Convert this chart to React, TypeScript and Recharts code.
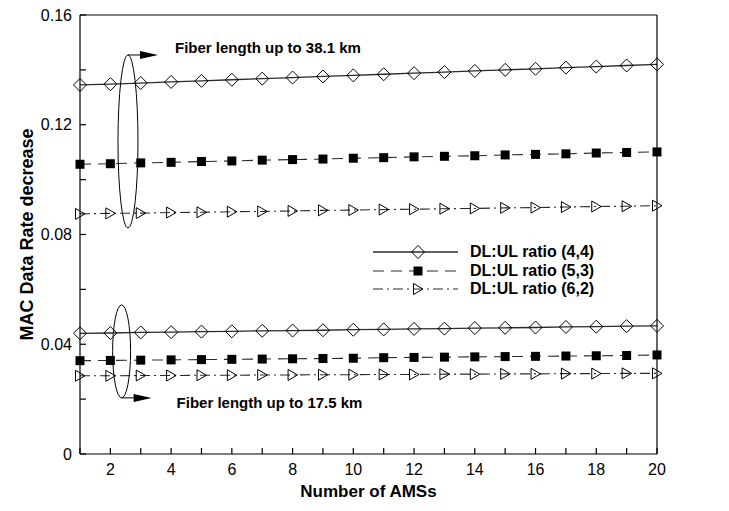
import React from 'react';
import { LineChart, Line, XAxis, YAxis, Legend, ReferenceLine, ReferenceDot } from 'recharts';

const amsCounts = [1, 2, 3, 4, 5, 6, 7, 8, 9, 10, 11, 12, 13, 14, 15, 16, 17, 18, 19, 20];
const xTicks = amsCounts;
const yTicks = [0, 0.02, 0.04, 0.06, 0.08, 0.1, 0.12, 0.14, 0.16];
const yLabelled = [0, 0.04, 0.08, 0.12, 0.16];

// Fiber length up to 38.1 km
const ratio44Long = [0.1345, 0.1348, 0.1352, 0.1356, 0.136, 0.1364, 0.1368, 0.1372, 0.1376, 0.138, 0.1384, 0.1388, 0.1392, 0.1396, 0.14, 0.1404, 0.1408, 0.1412, 0.1416, 0.142];
const ratio53Long = [0.1056, 0.1058, 0.1061, 0.1063, 0.1066, 0.1068, 0.1071, 0.1073, 0.1075, 0.1078, 0.108, 0.1083, 0.1085, 0.1087, 0.109, 0.1092, 0.1094, 0.1097, 0.1099, 0.1101];
const ratio62Long = [0.0875, 0.0877, 0.0878, 0.088, 0.0881, 0.0883, 0.0884, 0.0886, 0.0888, 0.0889, 0.0891, 0.0892, 0.0894, 0.0895, 0.0897, 0.0898, 0.09, 0.0902, 0.0903, 0.0905];
// Fiber length up to 17.5 km
const ratio44Short = [0.044, 0.0441, 0.0443, 0.0444, 0.0446, 0.0447, 0.0449, 0.045, 0.0451, 0.0453, 0.0454, 0.0456, 0.0457, 0.0459, 0.046, 0.0461, 0.0463, 0.0464, 0.0466, 0.0467];
const ratio53Short = [0.034, 0.0341, 0.0342, 0.0343, 0.0344, 0.0345, 0.0346, 0.0347, 0.0348, 0.0349, 0.0351, 0.0352, 0.0353, 0.0354, 0.0355, 0.0356, 0.0357, 0.0358, 0.0359, 0.0361];
const ratio62Short = [0.0285, 0.0285, 0.0286, 0.0286, 0.0287, 0.0287, 0.0288, 0.0288, 0.0289, 0.0289, 0.029, 0.029, 0.0291, 0.0291, 0.0292, 0.0292, 0.0293, 0.0293, 0.0294, 0.0294];

const seriesNames = ['DL:UL ratio (4,4)', 'DL:UL ratio (5,3)', 'DL:UL ratio (6,2)'];
const annotationTexts = ['Fiber length up to 38.1 km', 'Fiber length up to 17.5 km'];

const data = amsCounts.map((n, i) => ({
  n,
  l44: ratio44Long[i],
  l53: ratio53Long[i],
  l62: ratio62Long[i],
  s44: ratio44Short[i],
  s53: ratio53Short[i],
  s62: ratio62Short[i],
}));

const FONT = '"Liberation Sans", Arial, sans-serif';
const LINE = '#2a2a2a';
const TICK_MARGIN = 8;
const TICK_LEN = 6;

type Kind = 'diamond' | 'square' | 'triangle';

const marker = (kind: Kind, cx: number, cy: number, key?: string) => {
  if (kind === 'diamond') {
    const r = 6.5;
    return <path key={key} d={`M${cx},${cy - r}L${cx + r},${cy}L${cx},${cy + r}L${cx - r},${cy}Z`} fill="none" stroke="#000" strokeWidth={1} />;
  }
  if (kind === 'square') {
    return <rect key={key} x={cx - 4.5} y={cy - 4.5} width={9} height={9} fill="#000" />;
  }
  return <path key={key} d={`M${cx - 4.5},${cy - 5.5}L${cx + 5},${cy}L${cx - 4.5},${cy + 5.5}Z`} fill="none" stroke="#000" strokeWidth={1} />;
};

const styles: Record<string, { kind: Kind; dash?: string; width: number }> = {
  '44': { kind: 'diamond', width: 1.3 },
  '53': { kind: 'square', dash: '11 7', width: 1.1 },
  '62': { kind: 'triangle', dash: '10 4 2 4', width: 1.1 },
};

const makeDot = (kind: Kind) => (props: any) => {
  const { cx, cy, index, dataKey } = props;
  if (cx == null || cy == null) return <g key={`${dataKey}-${index}`} />;
  return marker(kind, cx, cy, `${dataKey}-${index}`);
};

const legendKey: Record<string, string> = {
  [seriesNames[0]]: '44',
  [seriesNames[1]]: '53',
  [seriesNames[2]]: '62',
};

const renderLegend = () => (
  <div style={{ fontFamily: FONT, fontWeight: 'bold', fontSize: 16 }}>
    {seriesNames.map((name) => {
      const st = styles[legendKey[name]];
      return (
        <div key={name} style={{ display: 'flex', alignItems: 'center', height: 18.5 }}>
          <svg width={97} height={18} style={{ display: 'block' }}>
            <line x1={0} x2={85} y1={9} y2={9} stroke={LINE} strokeWidth={st.width} strokeDasharray={st.dash} />
            {marker(st.kind, 45, 9)}
          </svg>
          <span style={{ whiteSpace: 'nowrap', color: '#000' }}>{name}</span>
        </div>
      );
    })}
  </div>
);

const annotationShape = (rx: number, ry: number, side: 'top' | 'bottom', text: string, tdx: number, tdy: number) => (props: any) => {
  const { cx, cy } = props;
  if (cx == null) return <g />;
  const ay = side === 'top' ? cy - ry : cy + ry;
  const ax = cx;
  return (
    <g>
      <ellipse cx={cx} cy={cy} rx={rx} ry={ry} fill="none" stroke="#000" strokeWidth={1} />
      <line x1={ax} x2={ax + 14} y1={ay} y2={ay} stroke="#000" strokeWidth={1} />
      <path d={`M${ax + 12},${ay - 4}L${ax + 30},${ay}L${ax + 12},${ay + 4}Z`} fill="#000" />
      <text x={ax + tdx} y={ay + tdy} fontFamily={FONT} fontWeight="bold" fontSize={15} fill="#000">{text}</text>
    </g>
  );
};

const fmt = (v: number) => (v === 0 ? '0' : v.toFixed(2));
const isLabelled = (v: number) => yLabelled.some((t) => Math.abs(t - v) < 1e-9);

const leftTick = (props: any) => {
  const { x, y, payload } = props;
  const axisX = x + TICK_MARGIN;
  return (
    <g>
      <line x1={axisX} x2={axisX + TICK_LEN} y1={y} y2={y} stroke="#000" strokeWidth={1.2} />
      {isLabelled(payload.value) ? (
        <text x={x} y={y} dy={5.5} textAnchor="end" fontFamily={FONT} fontSize={16} fill="#000">{fmt(payload.value)}</text>
      ) : null}
    </g>
  );
};

const rightTick = (props: any) => {
  const { x, y, payload } = props;
  const axisX = x - TICK_MARGIN;
  return (
    <g>
      <line x1={axisX} x2={axisX - TICK_LEN} y1={y} y2={y} stroke="#000" strokeWidth={1.2} />
      {isLabelled(payload.value) ? (
        <text x={x} y={y} dy={5.5} textAnchor="start" fontFamily={FONT} fontSize={16} fill="#000">{fmt(payload.value)}</text>
      ) : null}
    </g>
  );
};

const bottomTick = (props: any) => {
  const { x, y, payload } = props;
  const v = payload.value;
  const axisY = y - 9;
  return (
    <g>
      <line x1={x} x2={x} y1={axisY} y2={axisY - TICK_LEN} stroke="#000" strokeWidth={1.2} />
      {v % 2 === 0 ? (
        <text x={x} y={y} dy={12} textAnchor="middle" fontFamily={FONT} fontSize={16} fill="#000">{v}</text>
      ) : null}
    </g>
  );
};

export default function App() {
  return (
    <div style={{ position: 'absolute', left: 0, top: 0, width: 729, height: 511, background: '#fff' }}>
      <LineChart width={729} height={511} data={data} margin={{ top: 15, right: 20, bottom: 12, left: 0 }}>
        <XAxis
          dataKey="n"
          type="number"
          domain={[1, 20]}
          ticks={xTicks}
          interval={0}
          tickSize={0}
          tickMargin={9}
          tickLine={false}
          tick={bottomTick}
          axisLine={{ stroke: '#000', strokeWidth: 1.2 }}
          height={45}
          label={{ value: 'Number of AMSs', position: 'insideBottom', offset: 2, fontFamily: FONT, fontWeight: 'bold', fontSize: 17, fill: '#000' }}
        />
        <YAxis
          yAxisId="left"
          domain={[0, 0.16]}
          ticks={yTicks}
          interval={0}
          width={80}
          tickSize={0}
          tickMargin={TICK_MARGIN}
          tickLine={false}
          tick={leftTick}
          axisLine={{ stroke: '#000', strokeWidth: 1.2 }}
          label={{ value: 'MAC Data Rate decrease', angle: -90, position: 'insideLeft', offset: 27, fontFamily: FONT, fontWeight: 'bold', fontSize: 18, fill: '#000', style: { textAnchor: 'middle' } }}
        />
        <YAxis
          yAxisId="right"
          orientation="right"
          domain={[0, 0.16]}
          ticks={yTicks}
          interval={0}
          width={52}
          tickSize={0}
          tickMargin={TICK_MARGIN}
          tickLine={false}
          tick={rightTick}
          axisLine={{ stroke: '#000', strokeWidth: 1.2 }}
        />
        <ReferenceLine yAxisId="left" y={0.16} stroke="#000" strokeWidth={1} />
        <Legend
          content={renderLegend}
          layout="horizontal"
          verticalAlign="middle"
          align="center"
          wrapperStyle={{ position: 'absolute', left: 373, top: 243, width: 240, height: 60 }}
        />
        <Line yAxisId="left" type="linear" dataKey="l44" name={seriesNames[0]} stroke={LINE} strokeWidth={styles['44'].width} dot={makeDot('diamond')} isAnimationActive={false} />
        <Line yAxisId="left" type="linear" dataKey="l53" name={seriesNames[1]} stroke={LINE} strokeWidth={styles['53'].width} strokeDasharray={styles['53'].dash} dot={makeDot('square')} isAnimationActive={false} />
        <Line yAxisId="left" type="linear" dataKey="l62" name={seriesNames[2]} stroke={LINE} strokeWidth={styles['62'].width} strokeDasharray={styles['62'].dash} dot={makeDot('triangle')} isAnimationActive={false} />
        <Line yAxisId="left" type="linear" dataKey="s44" name="s44" legendType="none" stroke={LINE} strokeWidth={styles['44'].width} dot={makeDot('diamond')} isAnimationActive={false} />
        <Line yAxisId="left" type="linear" dataKey="s53" name="s53" legendType="none" stroke={LINE} strokeWidth={styles['53'].width} strokeDasharray={styles['53'].dash} dot={makeDot('square')} isAnimationActive={false} />
        <Line yAxisId="left" type="linear" dataKey="s62" name="s62" legendType="none" stroke={LINE} strokeWidth={styles['62'].width} strokeDasharray={styles['62'].dash} dot={makeDot('triangle')} isAnimationActive={false} />
        <ReferenceDot
          yAxisId="left"
          x={2.58}
          y={0.1139}
          ifOverflow="visible"
          shape={annotationShape(10, 86.5, 'top', annotationTexts[0], 47, -2)}
        />
        <ReferenceDot
          yAxisId="left"
          x={2.37}
          y={0.0374}
          ifOverflow="visible"
          shape={annotationShape(9, 46.5, 'bottom', annotationTexts[1], 55, 10)}
        />
      </LineChart>
    </div>
  );
}
